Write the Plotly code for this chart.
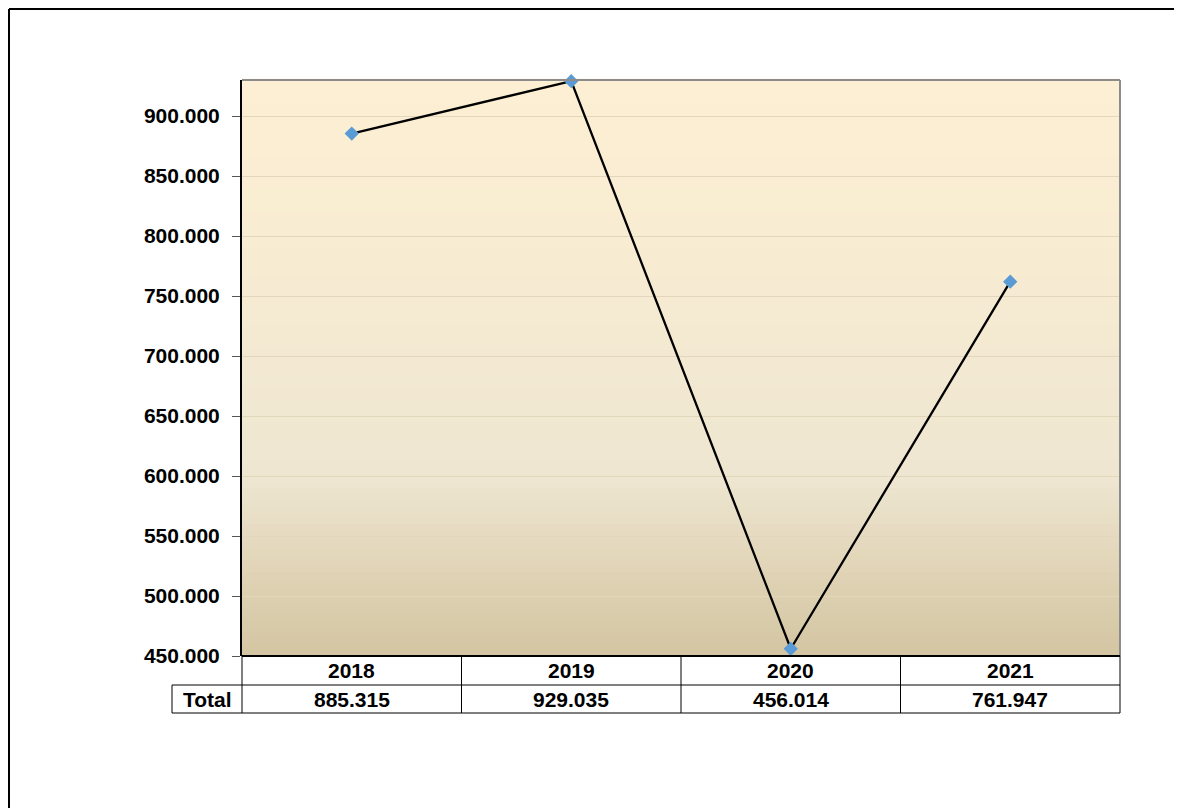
import plotly.graph_objects as go

years = ["2018", "2019", "2020", "2021"]
totals = [885.315, 929.035, 456.014, 761.947]
row_label = "Total"
y_ticks = [450, 500, 550, 600, 650, 700, 750, 800, 850, 900]

FONT = "Liberation Sans, Arial, sans-serif"
FS = 21
OFF = 8  # page body margin

# plot area in page pixels
PL, PR, PT, PB = 242, 1120, 80, 656
W, Hh = 1182, 808

# gradient stops (domain fraction, rgb)
stops = [(0.0, (0xD4, 0xC5, 0xA2)), (0.02, (0xD5, 0xC7, 0xA5)), (0.14, (0xE0, 0xD3, 0xB5)),
         (0.31, (0xEE, 0xE6, 0xD1)), (0.63, (0xF6, 0xEB, 0xD2)), (1.0, (0xFD, 0xEF, 0xD3))]

def col_at(f):
    for (a, ca), (b, cb) in zip(stops[:-1], stops[1:]):
        if a <= f <= b:
            t = (f - a) / (b - a) if b > a else 0
            c = [round(ca[i] + (cb[i] - ca[i]) * t) for i in range(3)]
            return "rgb(%d,%d,%d)" % tuple(c)
    return "rgb(%d,%d,%d)" % stops[-1][1]

fig = go.Figure()
fig.add_trace(go.Scatter(
    x=list(range(len(years))), y=totals, mode="lines+markers",
    line=dict(color="black", width=2.3),
    marker=dict(symbol="diamond", size=11, color="#5B9BD5"),
    hoverinfo="skip", showlegend=False, cliponaxis=False))

pw = PR - PL
ph = PB - PT
def px_x(x):  # page x -> paper
    return (x - PL) / pw
def px_y(y):  # page y -> paper
    return (PB - y) / ph

shapes = []
N = 96
for i in range(N):
    shapes.append(dict(type="rect", xref="x domain", yref="y domain",
                       x0=0, x1=1, y0=i / N, y1=(i + 1) / N + 0.002,
                       fillcolor=col_at((i + 0.5) / N), line=dict(width=0), layer="below"))

# plot area top/right border (gray)
shapes.append(dict(type="line", xref="paper", yref="paper", x0=0, x1=1, y0=1, y1=1,
                   line=dict(color="#8C8C8C", width=2)))
shapes.append(dict(type="line", xref="paper", yref="paper", x0=1, x1=1, y0=0, y1=1,
                   line=dict(color="#8C8C8C", width=2)))

# data table
r1 = px_y(685)
r2 = px_y(713)
tx0 = px_x(172)
lc = dict(color="black", width=1)
shapes.append(dict(type="line", xref="paper", yref="paper", x0=0, x1=1, y0=0, y1=0,
                   line=dict(color="black", width=2)))
shapes.append(dict(type="line", xref="paper", yref="paper", x0=tx0, x1=1, y0=r1, y1=r1, line=lc))
shapes.append(dict(type="line", xref="paper", yref="paper", x0=tx0, x1=1, y0=r2, y1=r2, line=lc))
for k in range(len(years) + 1):
    xk = k / len(years)
    shapes.append(dict(type="line", xref="paper", yref="paper", x0=xk, x1=xk,
                       y0=0, y1=r2, line=lc))
shapes.append(dict(type="line", xref="paper", yref="paper", x0=tx0, x1=tx0,
                   y0=r1, y1=r2, line=lc))

# outer chart border (top and left edges)
bl = dict(color="black", width=2)
shapes.append(dict(type="line", xref="paper", yref="paper",
                   x0=px_x(OFF + 1), x1=px_x(OFF + W), y0=px_y(9), y1=px_y(9), line=bl))
shapes.append(dict(type="line", xref="paper", yref="paper",
                   x0=px_x(OFF + 1), x1=px_x(OFF + 1), y0=px_y(9), y1=px_y(OFF + Hh), line=bl))

fnt = dict(family=FONT, size=FS, color="black", weight="bold")
annotations = []
for i, (yr, v) in enumerate(zip(years, totals)):
    xc = (i + 0.5) / len(years)
    annotations.append(dict(x=xc, xref="paper", y=r1 / 2, yref="paper", text=yr, showarrow=False,
                            font=fnt, xanchor="center", yanchor="middle"))
    annotations.append(dict(x=xc, xref="paper", y=(r1 + r2) / 2, yref="paper", text="%.3f" % v,
                            showarrow=False, font=fnt, xanchor="center", yanchor="middle"))
annotations.append(dict(x=tx0 / 2, xref="paper", y=(r1 + r2) / 2, yref="paper",
                        text=row_label, showarrow=False, font=fnt,
                        xanchor="center", yanchor="middle"))

fig.update_layout(
    width=W, height=Hh,
    margin=dict(l=PL - OFF, r=W - (PR - OFF), t=PT - OFF, b=Hh - (PB - OFF)),
    paper_bgcolor="white", plot_bgcolor="#F6EBD2",
    shapes=shapes, annotations=annotations,
    xaxis=dict(range=[-0.5, 3.5], showticklabels=False, showgrid=False, zeroline=False,
               showline=False, ticks=""),
    yaxis=dict(range=[450, 930], tickvals=y_ticks, tickformat=".3f",
               showgrid=True, gridcolor="#E2D6BB", gridwidth=1, zeroline=False,
               showline=True, linecolor="black", linewidth=2,
               ticks="outside", ticklen=8, tickcolor="#555555", tickwidth=1,
               ticklabelstandoff=8,
               tickfont=fnt),
    font=dict(family=FONT, size=FS, color="black"),
)

fig.write_html("out.html")
